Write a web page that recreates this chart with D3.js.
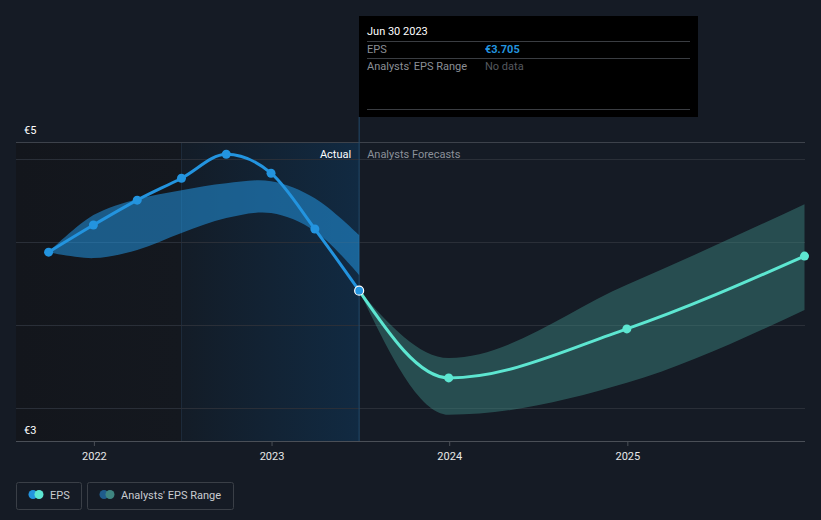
<!DOCTYPE html>
<html><head><meta charset="utf-8">
<script src="https://cdn.jsdelivr.net/npm/d3@7"></script>
<style>
html,body{margin:0;padding:0;background:#151b25;}
svg{display:block;font-family:Roboto,"Open Sans",sans-serif;}
</style></head>
<body><svg id="c" width="821" height="520"></svg>
<script>
const actualDates = ["2021-09-30","2021-12-31","2022-03-31","2022-06-30","2022-09-30","2022-12-31","2023-03-31","2023-06-30"];
const actualEPS = [3.937, 4.100, 4.250, 4.382, 4.526, 4.412, 4.076, 3.705];
const pastRangeLow = [3.937, 3.901, 3.950, 4.052, 4.142, 4.172, 4.064, 3.799];
const pastRangeHigh = [3.937, 4.160, 4.256, 4.310, 4.352, 4.364, 4.262, 4.040];
const forecastDates = ["2023-06-30","2023-12-31","2024-12-31","2025-12-31"];
const forecastEPS = [3.705, 3.180, 3.475, 3.913];
const forecastLow = [3.705, 2.958, 3.150, 3.589];
const forecastHigh = [3.705, 3.300, 3.740, 4.226];
const yearTicks = ["2022","2023","2024","2025"];
const yLabels = ["€5","€3"];
const gridValues = [3.0, 3.5, 4.0, 4.5];

const P = d3.timeParse("%Y-%m-%d");
const svg = d3.select("#c");
const L = 16, R = 805, T = 142, B = 441;
const x = d3.scaleTime().domain([P("2021-07-25"), P("2026-01-01")]).range([L, R]);
const y = d3.scaleLinear().domain([2.8, 4.6]).range([B, T]);

const defs = svg.append("defs");
const g1 = defs.append("linearGradient").attr("id","pastg").attr("x1","0").attr("x2","1");
g1.append("stop").attr("offset","0").attr("stop-color","#13161c");
g1.append("stop").attr("offset","1").attr("stop-color","#14181f");
const g2 = defs.append("linearGradient").attr("id","blueg").attr("x1","0").attr("x2","1");
g2.append("stop").attr("offset","0").attr("stop-color","#131c27");
g2.append("stop").attr("offset","1").attr("stop-color","#112a42");

const splitX = x(P("2022-06-30")), nowX = x(P("2023-06-30"));
svg.append("rect").attr("x",L).attr("y",T).attr("width",splitX-L).attr("height",B-T).attr("fill","url(#pastg)");
svg.append("rect").attr("x",splitX).attr("y",T).attr("width",nowX-splitX).attr("height",B-T).attr("fill","url(#blueg)");
svg.append("line").attr("x1",splitX).attr("x2",splitX).attr("y1",T).attr("y2",B).attr("stroke","#1d2b3b").attr("stroke-width",1);

// gridlines
svg.append("g").selectAll("line").data(gridValues).join("line")
  .attr("x1",L).attr("x2",R).attr("y1",d=>Math.round(y(d))+0.5).attr("y2",d=>Math.round(y(d))+0.5)
  .attr("stroke","#2a2f38").attr("stroke-width",1);
svg.append("line").attr("x1",L).attr("x2",R).attr("y1",T+0.5).attr("y2",T+0.5).attr("stroke","#3d424b");

// now line
svg.append("line").attr("x1",nowX).attr("x2",nowX).attr("y1",117).attr("y2",B).attr("stroke","#23496b").attr("stroke-width",1);

// bands
const ad = actualDates.map(P), fd = forecastDates.map(P);
svg.append("path").attr("d", d3.area().curve(d3.curveCatmullRom.alpha(0.5)).x((d,i)=>x(ad[i])).y0((d,i)=>y(pastRangeLow[i])).y1((d,i)=>y(pastRangeHigh[i]))(actualDates))
  .attr("fill","#2394df").attr("opacity",0.55);
svg.append("path").attr("d", d3.area().curve(d3.curveMonotoneX).x((d,i)=>x(fd[i])).y0((d,i)=>y(forecastLow[i])).y1((d,i)=>y(forecastHigh[i]))(forecastDates))
  .attr("fill","#3f8c86").attr("opacity",0.45);

// lines
svg.append("path").attr("d", d3.line().curve(d3.curveMonotoneX).x((d,i)=>x(fd[i])).y((d,i)=>y(d))(forecastEPS))
  .attr("fill","none").attr("stroke","#5de6d1").attr("stroke-width",3);
svg.append("path").attr("d", d3.line().curve(d3.curveMonotoneX).x((d,i)=>x(ad[i])).y((d,i)=>y(d))(actualEPS))
  .attr("fill","none").attr("stroke","#2394df").attr("stroke-width",3);

svg.append("g").selectAll("circle").data(forecastEPS.slice(1)).join("circle")
  .attr("cx",(d,i)=>x(fd[i+1])).attr("cy",d=>y(d)).attr("r",4.5).attr("fill","#5de6d1");
svg.append("g").selectAll("circle").data(actualEPS.slice(0,-1)).join("circle")
  .attr("cx",(d,i)=>x(ad[i])).attr("cy",d=>y(d)).attr("r",4.5).attr("fill","#2394df");
svg.append("circle").attr("cx",nowX).attr("cy",y(actualEPS[actualEPS.length-1])).attr("r",4.5)
  .attr("fill","#2394df").attr("stroke","#ffffff").attr("stroke-width",1.2);

// labels
svg.append("text").attr("x",nowX-8).attr("y",158).attr("text-anchor","end").attr("fill","#ffffff").attr("font-size",11).text("Actual");
svg.append("text").attr("x",nowX+8).attr("y",158).attr("fill","#8b9099").attr("font-size",11).text("Analysts Forecasts");

svg.append("text").attr("x",24).attr("y",134).attr("fill","#ffffff").attr("font-size",11).text(yLabels[0]);
svg.append("text").attr("x",24).attr("y",434).attr("fill","#ffffff").attr("font-size",11).text(yLabels[1]);

// x axis
svg.append("line").attr("x1",L).attr("x2",R).attr("y1",B+0.5).attr("y2",B+0.5).attr("stroke","#4a4f57");
const xa = svg.append("g").attr("transform",`translate(0,${B})`)
  .call(d3.axisBottom(x).tickValues(yearTicks.map(t=>P(t+"-01-01"))).tickFormat((d,i)=>yearTicks[i]).tickSize(5).tickPadding(6));
xa.select(".domain").remove();
xa.selectAll("line").attr("stroke","#4a4f57");
xa.selectAll("text").attr("fill","#e8e8e8").attr("font-size",11).attr("font-family","Roboto, sans-serif");

// tooltip
const tt = svg.append("g");
tt.append("rect").attr("x",359).attr("y",16).attr("width",339).attr("height",101).attr("fill","#000000");
tt.append("text").attr("x",367).attr("y",35).attr("fill","#ffffff").attr("font-size",11).text("Jun 30 2023");
[41,58,109].forEach(yy=>tt.append("line").attr("x1",367).attr("x2",690).attr("y1",yy+0.5).attr("y2",yy+0.5).attr("stroke","#3a3d42"));
tt.append("text").attr("x",367).attr("y",53).attr("fill","#8b8f96").attr("font-size",11).text("EPS");
tt.append("text").attr("x",485).attr("y",53).attr("fill","#2394df").attr("font-size",11).attr("font-weight","bold").text("€3.705");
tt.append("text").attr("x",367).attr("y",70).attr("fill","#8b8f96").attr("font-size",11).text("Analysts' EPS Range");
tt.append("text").attr("x",485).attr("y",70).attr("fill","#55595f").attr("font-size",11).text("No data");

// legend
const leg = svg.append("g");
const items = [
  {label:"EPS", x:16, w:65, c1:"#2394df", c2:"#5de6d1"},
  {label:"Analysts' EPS Range", x:87, w:146, c1:"#1f5c8c", c2:"#3e8580"}
];
items.forEach(it=>{
  leg.append("rect").attr("x",it.x+0.5).attr("y",482.5).attr("width",it.w).attr("height",27).attr("rx",2)
    .attr("fill","none").attr("stroke","#3a3f47");
  leg.append("circle").attr("cx",it.x+17).attr("cy",494.5).attr("r",4.5).attr("fill",it.c1);
  leg.append("circle").attr("cx",it.x+23).attr("cy",494.5).attr("r",4.5).attr("fill",it.c2);
  leg.append("text").attr("x",it.x+34).attr("y",498.5).attr("fill","#c9ccd1").attr("font-size",11).text(it.label);
});
</script></body></html>
